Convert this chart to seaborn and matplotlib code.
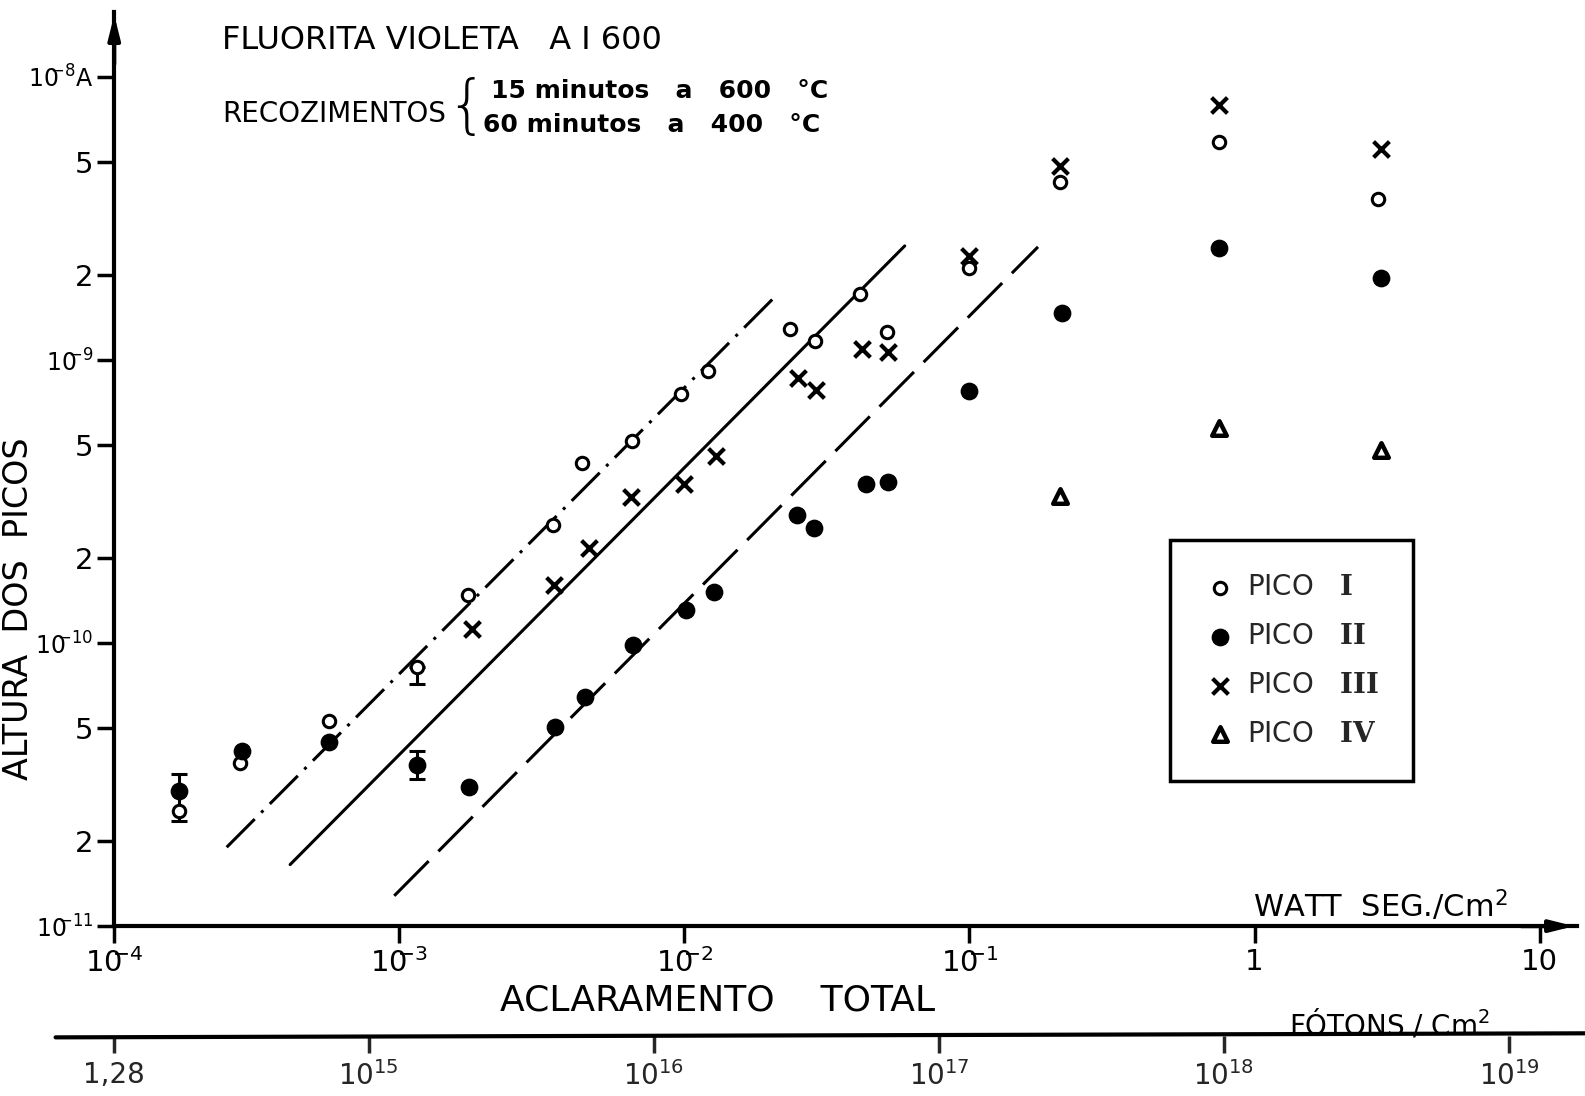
import matplotlib
matplotlib.use('Agg')
import matplotlib.pyplot as plt
import seaborn as sns
from matplotlib.lines import Line2D
from matplotlib.ticker import NullLocator

sns.set_style('white')
plt.rcParams['font.family'] = ['DejaVu Sans']
plt.rcParams['mathtext.fontset'] = 'custom'
plt.rcParams['mathtext.rm'] = 'DejaVu Serif:bold'
plt.rcParams['mathtext.default'] = 'regular'

# energy (W s / cm2) and peak height (A)
pico1_x = [1.69e-4, 2.77e-4, 5.65e-4, 1.15e-3, 1.74e-3, 3.46e-3, 4.38e-3, 6.55e-3, 9.7e-3, 1.21e-2,
           2.34e-2, 2.87e-2, 4.14e-2, 5.12e-2, 0.1, 0.208, 0.751, 2.71]
pico1_y = [2.55e-11, 3.76e-11, 5.3e-11, 8.2e-11, 1.48e-10, 2.62e-10, 4.33e-10, 5.18e-10, 7.57e-10, 9.14e-10,
           1.29e-9, 1.17e-9, 1.71e-9, 1.26e-9, 2.11e-9, 4.25e-9, 5.9e-9, 3.7e-9]

pico2_x = [1.69e-4, 2.8e-4, 5.65e-4, 1.15e-3, 1.75e-3, 3.52e-3, 4.49e-3, 6.6e-3, 1.01e-2, 1.27e-2,
           2.49e-2, 2.84e-2, 4.35e-2, 5.16e-2, 0.1, 0.212, 0.751, 2.77]
pico2_y = [3.01e-11, 4.15e-11, 4.47e-11, 3.7e-11, 3.11e-11, 5.06e-11, 6.47e-11, 9.85e-11, 1.31e-10, 1.52e-10,
           2.84e-10, 2.55e-10, 3.64e-10, 3.7e-10, 7.75e-10, 1.47e-9, 2.49e-9, 1.95e-9]

pico3_x = [1.8e-3, 3.48e-3, 4.64e-3, 6.5e-3, 9.98e-3, 1.29e-2, 2.5e-2, 2.9e-2, 4.2e-2, 5.2e-2,
           0.1, 0.208, 0.751, 2.77]
pico3_y = [1.12e-10, 1.61e-10, 2.17e-10, 3.27e-10, 3.66e-10, 4.58e-10, 8.63e-10, 7.81e-10, 1.09e-9, 1.07e-9,
           2.33e-9, 4.85e-9, 7.94e-9, 5.57e-9]

pico4_x = [0.208, 0.751, 2.77]
pico4_y = [3.32e-10, 5.77e-10, 4.81e-10]

# error bars: x, centre, lower end, upper end
err_x = [1.69e-4, 1.69e-4, 1.15e-3, 1.15e-3]
err_y = [2.55e-11, 3.01e-11, 8.2e-11, 3.7e-11]
err_lo = [2.35e-11, 3.01e-11, 7.15e-11, 3.32e-11]
err_hi = [3.01e-11, 3.44e-11, 8.2e-11, 4.15e-11]

# guide lines (end points)
line_dashdot_x = [2.48e-4, 2.1e-2]
line_dashdot_y = [1.9e-11, 1.69e-9]
line_solid_x = [4.14e-4, 5.93e-2]
line_solid_y = [1.65e-11, 2.53e-9]
line_dashed_x = [9.6e-4, 0.174]
line_dashed_y = [1.28e-11, 2.51e-9]

y_ticks = [1e-11, 2e-11, 5e-11, 1e-10, 2e-10, 5e-10, 1e-9, 2e-9, 5e-9, 1e-8]
y_labels = [r'$10^{\!\!\!{-}11}$', '2', '5', r'$10^{\!\!\!{-}10}$', '2', '5',
            r'$10^{\!\!\!{-}9}$', '2', '5', r'$10^{\!\!\!{-}8}$A']
x_ticks = [1e-4, 1e-3, 1e-2, 1e-1, 1, 10]
x_labels = [r'$10^{\!\!\!{-}4}$', r'$10^{\!\!\!{-}3}$', r'$10^{\!\!\!{-}2}$', r'$10^{\!\!\!{-}1}$',
            '1', '10']
foton_ticks = [1.28e14, 1e15, 1e16, 1e17, 1e18, 1e19]
foton_labels = ['1,28', '$10^{15}$', '$10^{16}$', '$10^{17}$', '$10^{18}$', '$10^{19}$']
fotons_per_ws = 1.28e18
legend_labels = [r'PICO   $\mathrm{I}$', r'PICO   $\mathrm{II}$', r'PICO   $\mathrm{III}$',
                 r'PICO   $\mathrm{IV}$']

W, H = 1568, 1084
fig = plt.figure(figsize=(15.85, 10.96), dpi=100)
ax = fig.add_axes([113 / W, 1 - 916 / H, (1560 - 113) / W, (916 - 12) / H])
ax.set_xscale('log')
ax.set_yscale('log')
ax.set_xlim(1e-4, 10 ** 1.131)
ax.set_ylim(1e-11, 10 ** -7.771)

lw = 2.2
sns.lineplot(x=line_dashdot_x, y=line_dashdot_y, color='black', linewidth=lw, ax=ax)
ax.lines[-1].set_dashes((13, 3, 1, 3))
sns.lineplot(x=line_solid_x, y=line_solid_y, color='black', linewidth=lw, ax=ax)
sns.lineplot(x=line_dashed_x, y=line_dashed_y, color='black', linewidth=lw, ax=ax)
ax.lines[-1].set_dashes((16, 4.5))

lower = [c - l for c, l in zip(err_y, err_lo)]
upper = [h - c for c, h in zip(err_y, err_hi)]
ax.errorbar(err_x, err_y, yerr=[lower, upper], fmt='none', ecolor='black',
            elinewidth=2.2, capsize=6, capthick=2.2, zorder=2)

sns.scatterplot(x=pico1_x, y=pico1_y, marker='o', s=80, facecolor='white', edgecolor='black',
                linewidth=2.2, label=legend_labels[0], ax=ax, zorder=3)
sns.scatterplot(x=pico2_x, y=pico2_y, marker='o', s=140, color='black', edgecolor='black',
                label=legend_labels[1], ax=ax, zorder=3)
sns.scatterplot(x=pico3_x, y=pico3_y, marker='x', s=130, color='black', linewidth=3,
                label=legend_labels[2], ax=ax, zorder=3)
sns.scatterplot(x=pico4_x, y=pico4_y, marker='^', s=110, facecolor='white', edgecolor='black',
                linewidth=3.2, label=legend_labels[3], ax=ax, zorder=3)

# axes styling
for side in ['top', 'right']:
    ax.spines[side].set_visible(False)
for side in ['left', 'bottom']:
    ax.spines[side].set_linewidth(3)
    ax.spines[side].set_color('black')
ax.set_yticks(y_ticks, labels=y_labels)
ax.set_xticks(x_ticks, labels=x_labels)
ax.xaxis.set_minor_locator(NullLocator())
ax.yaxis.set_minor_locator(NullLocator())
ax.tick_params(axis='both', direction='out', length=12, width=2.5, color='black',
               labelsize=21, labelcolor='black', left=True, bottom=True)
ax.tick_params(axis='y', pad=3)
ax.tick_params(axis='x', pad=4)
for lab in ax.get_yticklabels():
    if lab.get_text().startswith('$10'):
        lab.set_fontsize(17)

# arrows on the axes
ax.annotate('', xy=(0, 1.0), xytext=(0, 0.94), xycoords='axes fraction',
            arrowprops=dict(arrowstyle='-|>,head_length=1.4,head_width=0.35', color='black', lw=3))
ax.annotate('', xy=(1.0, 0), xytext=(0.96, 0), xycoords='axes fraction',
            arrowprops=dict(arrowstyle='-|>,head_length=1.4,head_width=0.35', color='black', lw=3))

# photon scale under the main axis
sec = ax.secondary_xaxis(-0.1206, functions=(lambda w: w * fotons_per_ws, lambda p: p / fotons_per_ws))
sec.set_xticks(foton_ticks, labels=foton_labels)
sec.xaxis.set_minor_locator(NullLocator())
sec.tick_params(direction='out', length=12, width=2.5, labelsize=20, pad=6)
sec.spines['bottom'].set_visible(False)
fig.add_artist(Line2D([55 / W, 1.0], [1 - 1026 / H, 1 - 1022 / H], color='black', lw=3,
                      transform=fig.transFigure))

legend = ax.legend(loc='upper left', bbox_to_anchor=(1157 / W, 1 - 534 / H),
                   bbox_transform=fig.transFigure, fontsize=20, frameon=True, fancybox=False,
                   edgecolor='black', framealpha=1, borderpad=1.2, labelspacing=0.75,
                   handlelength=1.2, handletextpad=0.4, borderaxespad=0)
legend.get_frame().set_linewidth(2.5)

def ftext(x, y, s, **kw):
    fig.text(x / W, 1 - y / H, s, color='black', **kw)

ftext(220, 40, 'FLUORITA VIOLETA   A I 600', fontsize=23, va='center', ha='left')
ftext(220, 113, 'RECOZIMENTOS', fontsize=20, va='center', ha='left')
ftext(482, 107, '{', fontsize=46, va='center', ha='right', fontweight='light')
ftext(486, 90, '15 minutos   a   600   °C', fontsize=18, va='center', ha='left', fontweight='bold')
ftext(478, 124, '60 minutos   a   400   °C', fontsize=18, va='center', ha='left', fontweight='bold')
ftext(18, 602, 'ALTURA  DOS  PICOS', fontsize=24, va='center', ha='center', rotation=90)
ftext(710, 990, 'ACLARAMENTO    TOTAL', fontsize=26, va='center', ha='center')
ftext(1366, 896, 'WATT  SEG./Cm$^2$', fontsize=22, va='center', ha='center')
ftext(1375, 1013, 'FÓTONS / Cm$^2$', fontsize=20, va='center', ha='center')

fig.savefig('out.png', dpi=100, facecolor='white')
